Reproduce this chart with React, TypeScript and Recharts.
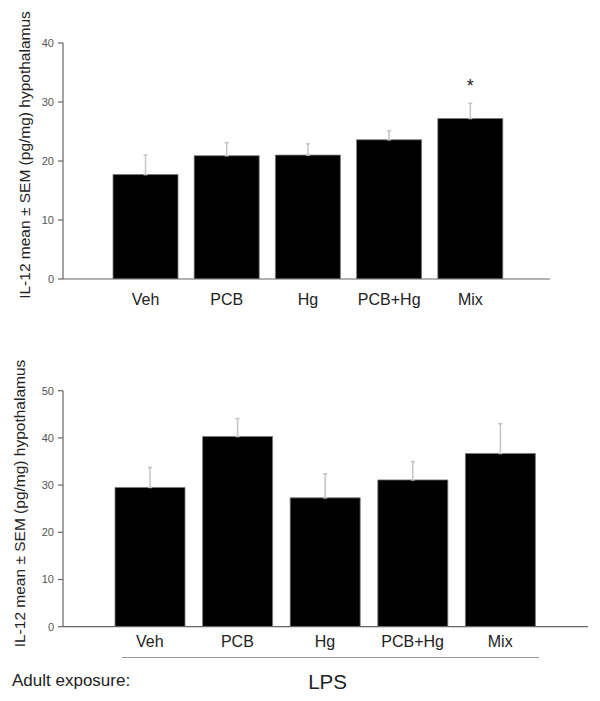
import { BarChart, Bar, XAxis, YAxis, ErrorBar, LabelList } from "recharts";

const categories = ["Veh", "PCB", "Hg", "PCB+Hg", "Mix"];

// top panel
const topMeans = [17.7, 20.9, 21.0, 23.6, 27.2];
const topSem = [3.3, 2.2, 1.9, 1.5, 2.6];
const topSig = ["", "", "", "", "*"];
const topTicks = [0, 10, 20, 30, 40];

// bottom panel (adult LPS)
const bottomMeans = [29.5, 40.3, 27.3, 31.1, 36.7];
const bottomSem = [4.2, 3.8, 5.1, 3.9, 6.3];
const bottomTicks = [0, 10, 20, 30, 40, 50];

const yLabel = "IL-12 mean \u00b1 SEM (pg/mg) hypothalamus";
const exposureLabel = "Adult exposure:";
const exposureGroup = "LPS";

const FONT = "'Liberation Sans', Arial, Helvetica, sans-serif";

const topData = categories.map((name, i) => ({
  name,
  mean: topMeans[i],
  sem: [0, topSem[i]],
  sig: topSig[i],
}));

const bottomData = categories.map((name, i) => ({
  name,
  mean: bottomMeans[i],
  sem: [0, bottomSem[i]],
}));

function Star(props: any) {
  const { x, y, width, value } = props;
  if (!value) return null;
  return (
    <text
      x={x + width / 2}
      y={y - 27}
      textAnchor="middle"
      fontSize={18}
      fontFamily={FONT}
      fill="#222"
    >
      {value}
    </text>
  );
}

const yTick = { fontSize: 11, fill: "#555", fontFamily: FONT };
const xTick = { fontSize: 16, fill: "#222", fontFamily: FONT };
const axisStroke = { stroke: "#666", strokeWidth: 1.2 };

export default function App() {
  return (
    <div
      style={{
        position: "absolute",
        left: 0,
        top: 0,
        width: 600,
        height: 701,
        background: "#fff",
      }}
    >
      <div style={{ position: "absolute", left: 0, top: 0 }}>
        <BarChart
          width={600}
          height={320}
          data={topData}
          margin={{ top: 43, right: 50, left: 0, bottom: 0 }}
          barSize={65}
        >
          <XAxis
            dataKey="name"
            height={41}
            padding={{ left: 42, right: 39 }}
            tickLine={false}
            tickSize={0}
            tickMargin={15}
            axisLine={axisStroke}
            tick={xTick}
            interval={0}
          />
          <YAxis
            width={63}
            domain={[0, 40]}
            ticks={topTicks}
            allowDataOverflow
            tickSize={5}
            tickMargin={4}
            tickLine={axisStroke}
            axisLine={axisStroke}
            tick={yTick}
          />
          <Bar
            dataKey="mean"
            fill="#000"
            stroke="#7a7a7a"
            strokeWidth={0.8}
            isAnimationActive={false}
          >
            <ErrorBar
              dataKey="sem"
              width={2}
              stroke="#c4c4c4"
              strokeWidth={1.5}
              isAnimationActive={false}
            />
            <LabelList dataKey="sig" content={<Star />} />
          </Bar>
        </BarChart>
      </div>

      <div style={{ position: "absolute", left: 0, top: 320 }}>
        <BarChart
          width={600}
          height={381}
          data={bottomData}
          margin={{ top: 70.7, right: 12, left: 0, bottom: 0 }}
          barSize={70}
        >
          <XAxis
            dataKey="name"
            height={74.3}
            padding={{ left: 43, right: 44 }}
            tickLine={false}
            tickSize={0}
            tickMargin={9}
            axisLine={axisStroke}
            tick={xTick}
            interval={0}
          />
          <YAxis
            width={63}
            domain={[0, 50]}
            ticks={bottomTicks}
            allowDataOverflow
            tickSize={5}
            tickMargin={4}
            tickLine={axisStroke}
            axisLine={axisStroke}
            tick={yTick}
          />
          <Bar
            dataKey="mean"
            fill="#000"
            stroke="#7a7a7a"
            strokeWidth={0.8}
            isAnimationActive={false}
          >
            <ErrorBar
              dataKey="sem"
              width={2}
              stroke="#c4c4c4"
              strokeWidth={1.5}
              isAnimationActive={false}
            />
          </Bar>
        </BarChart>
      </div>

      {/* axis titles and the exposure annotation */}
      <svg
        width={600}
        height={701}
        style={{ position: "absolute", left: 0, top: 0, pointerEvents: "none" }}
      >
        <text
          x={30}
          y={155}
          transform="rotate(-90 30 155)"
          textAnchor="middle"
          fontSize={15.5}
          fontFamily={FONT}
          fill="#222"
        >
          {yLabel}
        </text>
        <text
          x={24.5}
          y={503.5}
          transform="rotate(-90 24.5 503.5)"
          textAnchor="middle"
          fontSize={15.5}
          fontFamily={FONT}
          fill="#222"
        >
          {yLabel}
        </text>
        <line x1={122} y1={657.5} x2={539} y2={657.5} stroke="#999" strokeWidth={1} />
        <text x={12} y={686} fontSize={17} fontFamily={FONT} fill="#222">
          {exposureLabel}
        </text>
        <text
          x={327.5}
          y={689}
          textAnchor="middle"
          fontSize={20.5}
          fontFamily={FONT}
          fill="#222"
        >
          {exposureGroup}
        </text>
      </svg>
    </div>
  );
}
